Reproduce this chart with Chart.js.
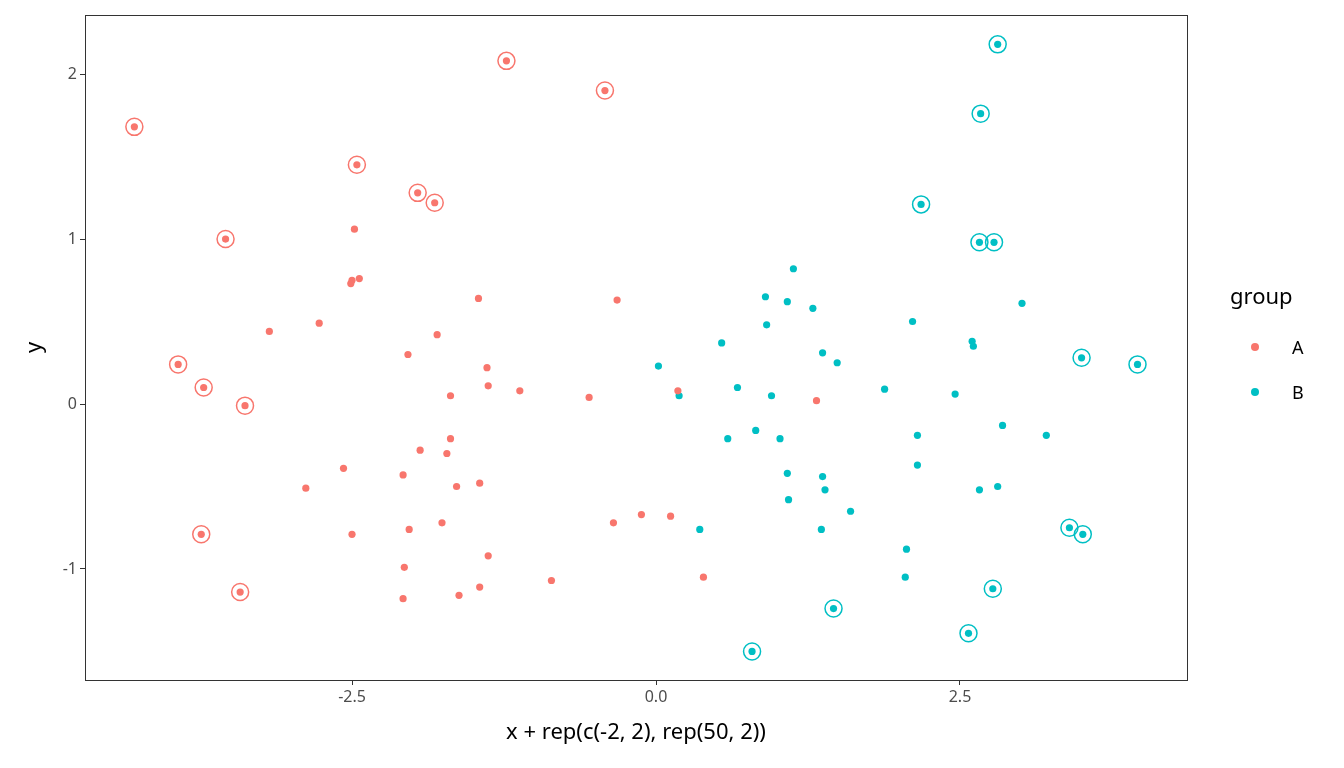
<!DOCTYPE html>
<html>
<head>
<meta charset="utf-8">
<script src="https://cdn.jsdelivr.net/npm/chart.js@4"></script>
<style>
  body { margin: 0; background: #fff; font-family: "Noto Sans", "DejaVu Sans", sans-serif; }
  #wrap { position: relative; width: 1344px; height: 768px; }
  #legend { position: absolute; left: 1230px; top: 280px; color: #000; }
  #legend .title { font-size: 22px; margin-bottom: 14px; }
  #legend .item { display: flex; align-items: center; height: 45px; font-size: 18px; }
  #legend .dot { width: 8px; height: 8px; border-radius: 50%; margin-left: 21px; margin-right: 33px; }
</style>
</head>
<body>
<div id="wrap">
  <canvas id="c" width="1344" height="768"></canvas>
  <div id="legend">
    <div class="title">group</div>
    <div class="item"><span class="dot" style="background:#F8766D"></span>A</div>
    <div class="item"><span class="dot" style="background:#00BFC4"></span>B</div>
  </div>
</div>
<script>
// Group A points
const aX = [-4.29,-1.23,-0.42,-2.46,-1.96,-1.82,-3.54,-2.48,-2.50,-2.44,-2.51,-3.18,-2.77,-1.46,-0.32,-1.80,-2.04,-1.39,-3.93,-3.72,
            -1.38,-1.12,-1.69,-0.55,-3.38,0.18,1.32,-1.69,-1.94,-1.72,-2.57,-2.08,-1.45,-2.88,-1.64,-3.74,-2.50,-2.03,-1.76,-0.35,
            -0.12,0.12,-1.38,-2.07,-0.86,0.39,-3.42,-2.08,-1.62,-1.45];
const aY = [1.68,2.08,1.90,1.45,1.28,1.22,1.00,1.06,0.75,0.76,0.73,0.44,0.49,0.64,0.63,0.42,0.30,0.22,0.24,0.10,
            0.11,0.08,0.05,0.04,-0.01,0.08,0.02,-0.21,-0.28,-0.30,-0.39,-0.43,-0.48,-0.51,-0.50,-0.79,-0.79,-0.76,-0.72,-0.72,
            -0.67,-0.68,-0.92,-0.99,-1.07,-1.05,-1.14,-1.18,-1.16,-1.11];
const aOut = [0,1,2,3,4,5,6,18,19,24,35,46];

// Group B points
const bX = [2.81,2.67,2.18,2.66,2.78,1.13,0.90,1.08,1.29,3.01,0.91,2.11,0.54,2.60,2.61,1.37,1.49,0.02,3.50,3.96,
            0.67,1.88,0.95,2.46,0.19,2.85,0.82,0.59,1.02,2.15,3.21,2.15,1.08,1.37,1.39,2.66,2.81,1.09,1.60,0.36,
            1.36,3.40,3.51,2.06,2.05,2.77,1.46,2.57,0.79];
const bY = [2.18,1.76,1.21,0.98,0.98,0.82,0.65,0.62,0.58,0.61,0.48,0.50,0.37,0.38,0.35,0.31,0.25,0.23,0.28,0.24,
            0.10,0.09,0.05,0.06,0.05,-0.13,-0.16,-0.21,-0.21,-0.19,-0.19,-0.37,-0.42,-0.44,-0.52,-0.52,-0.50,-0.58,-0.65,-0.76,
            -0.76,-0.75,-0.79,-0.88,-1.05,-1.12,-1.24,-1.39,-1.50];
const bOut = [0,1,2,3,4,18,19,41,42,45,46,47,48];

const xTicks = [-2.5, 0, 2.5];
const yTicks = [-1, 0, 1, 2];

const RED = '#F8766D', CYAN = '#00BFC4';
const pts = (xs, ys) => xs.map((x, i) => ({ x, y: ys[i] }));
const pick = (xs, ys, idx) => idx.map(i => ({ x: xs[i], y: ys[i] }));

const frame = {
    id: 'frame',
    afterDraw(chart) {
        const { ctx, chartArea: a } = chart;
        ctx.save();
        ctx.strokeStyle = '#333';
        ctx.lineWidth = 1;
        ctx.strokeRect(a.left + 0.5, a.top + 0.5, a.right - a.left, a.bottom - a.top);
        ctx.restore();
    }
};

new Chart(document.getElementById('c'), {
    type: 'scatter',
    data: {
        datasets: [
            { data: pts(aX, aY), backgroundColor: RED, borderWidth: 0, pointRadius: 3.6 },
            { data: pts(bX, bY), backgroundColor: CYAN, borderWidth: 0, pointRadius: 3.6 },
            { data: pick(aX, aY, aOut), backgroundColor: 'transparent', borderColor: RED, borderWidth: 1.5, pointRadius: 8.5 },
            { data: pick(bX, bY, bOut), backgroundColor: 'transparent', borderColor: CYAN, borderWidth: 1.5, pointRadius: 8.5 }
        ]
    },
    options: {
        responsive: false,
        animation: false,
        events: [],
        layout: { padding: { top: 15, right: 157, left: 18, bottom: 18 } },
        plugins: { legend: { display: false }, tooltip: { enabled: false } },
        scales: {
            x: {
                min: -4.696, max: 4.367,
                afterBuildTicks: s => { s.ticks = xTicks.map(v => ({ value: v })); },
                afterFit: s => { s.height = 70; },
                grid: { drawOnChartArea: false, tickLength: 5, color: '#333' },
                border: { color: '#333' },
                ticks: { color: '#4D4D4D', font: { size: 16, family: 'Noto Sans' }, padding: 3,
                         callback: v => v.toFixed(1) },
                title: { display: true, text: 'x + rep(c(-2, 2), rep(50, 2))', color: '#000',
                         font: { size: 22, family: 'Noto Sans' }, padding: { top: 4 } }
            },
            y: {
                min: -1.673, max: 2.358,
                afterBuildTicks: s => { s.ticks = yTicks.map(v => ({ value: v })); },
                afterFit: s => { s.width = 67; },
                grid: { drawOnChartArea: false, tickLength: 5, color: '#333' },
                border: { color: '#333' },
                ticks: { color: '#4D4D4D', font: { size: 16, family: 'Noto Sans' }, padding: 3 },
                title: { display: true, text: 'y', color: '#000',
                         font: { size: 22, family: 'Noto Sans' }, padding: { bottom: 4 } }
            }
        }
    },
    plugins: [frame]
});
</script>
</body>
</html>
